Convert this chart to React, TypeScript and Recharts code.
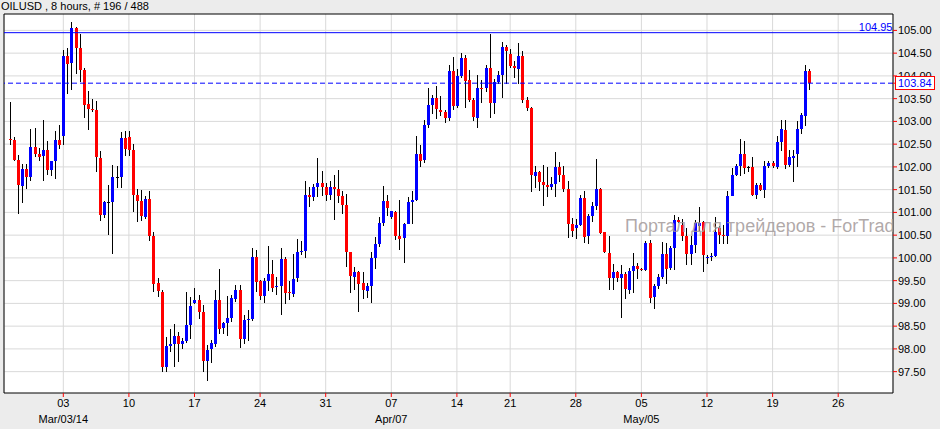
import React from 'react';
import { ComposedChart, Bar, XAxis, YAxis, CartesianGrid, ReferenceLine } from 'recharts';

const FONT = '"Liberation Sans", Arial, sans-serif';

const title = 'OILUSD , 8 hours, # 196 / 488';
// the watermark is cut by the plot's right edge in the reference
const watermarkVisible = 'Портал для трейдеров - ForTrad';

const opens = [
  102.62, 102.59, 102.15, 101.59, 101.96, 101.79, 102.44, 102.29, 102.23, 102.37,
  101.93, 102.12, 102.59, 102.69, 104.44, 104.27, 105.05, 104.62, 104.14, 103.38,
  103.28, 103.25, 102.19, 100.93, 101.22, 101.24, 101.77, 101.78, 102.63, 102.66,
  102.38, 101.38, 101.25, 100.91, 101.30, 100.49, 99.44, 99.26, 97.61, 98.07,
  98.11, 98.29, 98.11, 98.18, 98.53, 99.02, 99.08, 98.82, 97.74, 97.98,
  98.12, 99.08, 98.44, 98.56, 98.67, 99.11, 99.30, 98.23, 98.64, 98.66,
  100.02, 99.49, 99.17, 99.49, 99.65, 99.35, 99.38, 99.98, 99.24, 99.22,
  99.54, 100.14, 100.16, 101.38, 101.34, 101.56, 101.65, 101.56, 101.38, 101.56,
  101.52, 101.36, 101.16, 100.12, 99.59, 99.70, 99.44, 99.28, 99.39, 100.00,
  100.31, 100.77, 101.26, 100.89, 101.01, 100.49, 100.43, 100.74, 101.23, 101.27,
  102.29, 102.14, 102.92, 103.35, 103.51, 103.25, 103.21, 103.08, 104.11, 103.34,
  104.00, 104.40, 103.90, 103.46, 103.08, 103.73, 103.74, 104.17, 103.39, 103.86,
  104.02, 104.64, 104.49, 104.21, 104.16, 104.44, 103.47, 103.29, 101.81, 101.89,
  101.66, 101.60, 101.56, 101.63, 102.00, 101.82, 101.52, 100.75, 100.67, 100.73,
  101.32, 100.47, 100.91, 101.14, 101.52, 100.56, 100.11, 99.55, 99.69, 99.55,
  99.64, 99.30, 99.71, 99.82, 99.76, 99.74, 100.33, 99.13, 99.38, 99.58,
  100.09, 99.76, 100.21, 100.83, 100.73, 100.49, 100.09, 100.29, 100.71, 100.78,
  99.99, 100.04, 100.05, 100.65, 100.51, 100.47, 101.36, 101.82, 102.02, 102.29,
  101.99, 101.99, 101.38, 101.60, 101.49, 102.02, 102.09, 102.01, 102.55, 102.81,
  102.04, 102.21, 102.29, 102.84, 103.13, 104.11,
];

const highs = [
  103.42, 102.65, 102.26, 102.07, 102.07, 102.84, 102.85, 102.41, 103.03, 102.56,
  102.14, 102.79, 102.92, 104.57, 104.62, 105.19, 105.08, 104.93, 104.17, 103.66,
  103.49, 103.45, 102.34, 101.24, 101.60, 102.04, 102.01, 102.76, 102.78, 102.78,
  102.50, 101.52, 101.49, 101.35, 101.48, 100.58, 99.55, 99.30, 98.27, 98.44,
  98.55, 98.38, 98.25, 99.24, 99.13, 99.33, 99.19, 98.97, 98.09, 98.20,
  99.30, 99.76, 98.60, 99.16, 99.19, 99.41, 99.41, 98.75, 98.86, 100.21,
  100.18, 99.52, 99.55, 100.26, 99.96, 99.59, 100.21, 100.01, 99.49, 100.08,
  100.42, 100.37, 101.68, 101.56, 101.62, 102.20, 101.91, 101.64, 101.70, 101.82,
  101.93, 101.46, 101.41, 100.13, 99.80, 99.72, 99.69, 99.44, 100.14, 100.45,
  100.89, 101.58, 101.38, 101.03, 101.02, 101.28, 100.76, 101.33, 101.46, 102.69,
  102.48, 103.03, 103.73, 103.58, 103.78, 103.56, 103.25, 104.24, 104.41, 104.15,
  104.51, 104.46, 104.13, 103.51, 104.02, 103.90, 104.24, 104.92, 103.93, 104.10,
  104.74, 104.68, 104.59, 104.32, 104.72, 104.55, 103.54, 103.32, 102.02, 101.90,
  102.04, 101.99, 101.78, 102.33, 102.11, 102.03, 101.69, 100.87, 100.86, 101.38,
  101.48, 100.96, 101.22, 102.18, 101.53, 100.57, 100.48, 99.87, 99.71, 99.85,
  99.70, 99.77, 100.10, 99.88, 99.78, 100.37, 100.39, 99.42, 99.64, 100.36,
  100.32, 100.26, 100.95, 100.89, 100.86, 100.65, 100.49, 100.84, 101.11, 100.80,
  100.07, 100.11, 100.90, 100.70, 100.73, 101.47, 101.97, 102.06, 102.62, 102.57,
  102.01, 102.21, 101.64, 101.64, 102.14, 102.14, 102.12, 102.69, 103.03, 103.03,
  102.37, 102.37, 103.00, 103.19, 104.24, 104.15,
];

const lows = [
  102.48, 102.12, 100.97, 101.22, 101.52, 101.70, 102.21, 102.12, 101.70, 101.81,
  101.82, 101.74, 102.40, 102.49, 103.61, 103.70, 104.05, 103.88, 103.07, 102.80,
  103.20, 101.88, 100.80, 100.87, 100.51, 100.08, 101.53, 101.53, 102.23, 102.23,
  101.00, 100.80, 100.80, 100.84, 100.38, 99.26, 99.13, 97.50, 97.50, 97.94,
  97.61, 97.72, 98.01, 98.12, 98.20, 98.97, 98.66, 97.50, 97.30, 97.70,
  98.04, 98.34, 98.34, 98.27, 98.59, 99.04, 98.03, 98.12, 98.18, 98.60,
  99.26, 99.08, 99.00, 99.27, 99.26, 99.19, 98.73, 98.97, 99.08, 99.13,
  99.48, 100.07, 99.98, 101.12, 101.24, 101.34, 101.36, 101.24, 101.28, 100.82,
  101.20, 100.95, 99.81, 99.22, 99.30, 98.81, 99.10, 99.11, 99.03, 99.74,
  100.23, 100.71, 100.91, 100.85, 100.38, 100.18, 99.88, 100.73, 100.73, 101.26,
  101.99, 102.08, 102.85, 103.16, 103.05, 103.12, 102.97, 103.00, 103.25, 103.30,
  103.97, 103.30, 103.42, 103.01, 102.86, 103.39, 103.64, 103.08, 103.16, 103.82,
  103.51, 103.82, 104.18, 103.95, 103.82, 103.41, 103.23, 101.46, 101.53, 101.46,
  101.14, 101.32, 101.49, 101.35, 101.68, 101.46, 100.43, 100.45, 100.43, 100.70,
  100.34, 100.29, 100.78, 101.05, 100.51, 100.10, 99.30, 99.30, 99.47, 98.69,
  99.11, 99.19, 99.22, 99.52, 99.72, 99.70, 99.00, 98.86, 99.32, 99.55,
  99.42, 99.74, 99.74, 100.75, 100.38, 99.83, 99.85, 100.12, 100.58, 99.68,
  99.88, 99.94, 100.03, 100.31, 100.31, 100.31, 101.35, 101.80, 101.80, 101.85,
  101.88, 101.35, 101.28, 101.46, 101.33, 101.99, 101.97, 101.97, 102.34, 101.96,
  101.99, 101.66, 101.99, 102.73, 102.90, 103.69,
];

const closes = [
  102.61, 102.14, 101.59, 101.96, 101.78, 102.44, 102.29, 102.23, 102.37, 101.93,
  102.12, 102.59, 102.49, 104.44, 104.27, 105.05, 104.62, 104.14, 103.38, 103.27,
  103.26, 102.21, 100.93, 101.22, 101.22, 101.78, 101.77, 102.63, 102.38, 102.38,
  101.38, 101.25, 100.91, 101.30, 100.49, 99.44, 99.26, 97.61, 98.07, 98.11,
  98.29, 98.11, 98.18, 98.53, 98.95, 99.08, 98.82, 97.74, 97.98, 98.12,
  99.08, 98.44, 98.56, 98.67, 99.11, 99.30, 98.23, 98.64, 98.66, 100.02,
  99.48, 99.17, 99.49, 99.65, 99.35, 99.38, 99.98, 99.24, 99.22, 99.54,
  100.12, 100.16, 101.38, 101.34, 101.56, 101.65, 101.56, 101.38, 101.56, 101.52,
  101.36, 101.16, 100.12, 99.59, 99.70, 99.44, 99.28, 99.39, 100.00, 100.31,
  100.77, 101.26, 101.11, 101.02, 100.49, 100.43, 100.74, 101.23, 101.27, 102.29,
  102.14, 102.92, 103.35, 103.51, 103.26, 103.21, 103.08, 104.11, 103.33, 104.00,
  104.40, 103.90, 103.46, 103.08, 103.73, 103.71, 104.17, 103.39, 103.86, 104.02,
  104.64, 104.56, 104.22, 104.16, 104.44, 103.47, 103.29, 101.81, 101.89, 101.66,
  101.60, 101.56, 101.63, 102.00, 101.82, 101.52, 100.75, 100.60, 100.73, 101.32,
  100.47, 100.91, 101.14, 101.52, 100.56, 100.11, 99.55, 99.69, 99.55, 99.64,
  99.32, 99.71, 99.82, 99.76, 99.74, 100.33, 99.13, 99.38, 99.58, 100.09,
  99.76, 100.21, 100.83, 100.78, 100.49, 100.09, 100.29, 100.77, 100.77, 100.05,
  100.02, 100.05, 100.58, 100.49, 100.48, 101.36, 101.82, 102.02, 102.29, 101.99,
  101.99, 101.38, 101.60, 101.49, 102.02, 102.09, 102.02, 102.55, 102.84, 102.04,
  102.21, 102.25, 102.84, 103.14, 104.11, 103.84,
];

const weekTickIndex = [13, 29, 45, 61, 77, 93, 109, 122, 138, 154, 170, 186, 202];
const weekTickLabels = ['03', '10', '17', '24', '31', '07', '14', '21', '28', '05', '12', '19', '26'];
const monthTickIndex = [13, 93, 154];
const monthTickLabels = ['Mar/03/14', 'Apr/07', 'May/05'];

const priceTicks = [97.5, 98, 98.5, 99, 99.5, 100, 100.5, 101, 101.5, 102, 102.5, 103, 103.5, 104, 104.5, 105];
const lastPrice = 103.84;
const levelPrice = 104.95;

const X_DOMAIN: [number, number] = [-1.4634, 215.3659];
const Y_DOMAIN: [number, number] = [97.0307, 105.3604];

const data = opens.map((o, i) => ({
  i,
  open: o,
  high: highs[i],
  low: lows[i],
  close: closes[i],
}));

// last price appended last so its boxed label is painted over the 104.00 label
const axisTicks = [...priceTicks, lastPrice];

const Candle = (props: any) => {
  const { x, y, width, height, payload } = props;
  if (x == null || y == null || !payload) return null;
  const top = Math.min(y, y + height);
  const h = Math.abs(height);
  const { open, close, high, low } = payload;
  const span = high - low || 1;
  const toY = (v: number) => top + ((high - v) / span) * h;
  const cx = Math.floor(x + width / 2);
  const yO = toY(open);
  const yC = toY(close);
  const bTop = Math.round(Math.min(yO, yC));
  const bH = Math.max(1, Math.round(Math.abs(yO - yC)));
  const color = close > open ? '#0000ff' : close < open ? '#ff0000' : '#000000';
  return (
    <g>
      <rect x={cx} y={Math.round(top)} width={1} height={Math.max(1, Math.round(h))} fill="#000000" />
      <rect x={cx - 1} y={bTop} width={3} height={bH} fill={color} />
    </g>
  );
};

const DateTick = (props: any) => {
  const { x, y, payload } = props;
  const v = payload ? payload.value : null;
  const wi = weekTickIndex.indexOf(v);
  const mi = monthTickIndex.indexOf(v);
  return (
    <g>
      {wi >= 0 && (
        <text x={x} y={y + 8} textAnchor="middle" fill="#000" fontSize={11} fontFamily={FONT}>
          {weekTickLabels[wi]}
        </text>
      )}
      {mi >= 0 && (
        <text x={x} y={y + 24} textAnchor="middle" fill="#000" fontSize={11} fontFamily={FONT}>
          {monthTickLabels[mi]}
        </text>
      )}
    </g>
  );
};

const PriceTick = (props: any) => {
  const { x, y, payload } = props;
  const v = payload ? payload.value : 0;
  if (v === lastPrice) {
    return (
      <g>
        <rect x={x - 2.5} y={Math.round(y) - 6.5} width={39} height={13} fill="#ffffff" stroke="#ff0000" strokeWidth={1} />
        <text x={x} y={y + 4} fill="#0000ff" fontSize={11} fontFamily={FONT}>
          {v.toFixed(2)}
        </text>
      </g>
    );
  }
  return (
    <text x={x} y={y} dy="0.355em" textAnchor="start" fill="#000000" fontSize={11} fontFamily={FONT}>
      {v.toFixed(2)}
    </text>
  );
};

const LevelLabel = (props: any) => {
  const vb = props.viewBox || {};
  const right = (vb.x || 0) + (vb.width || 0);
  return (
    <text x={right - 0.5} y={(vb.y || 0) - 1.5} textAnchor="end" fill="#0000ff" fontSize={11} fontFamily={FONT}>
      {levelPrice.toFixed(2)}
    </text>
  );
};

export default function App() {
  return (
    <div style={{ position: 'absolute', left: 0, top: 0, width: 940, height: 429, background: '#ececec', overflow: 'hidden' }}>
      <ComposedChart width={940} height={429} data={data} margin={{ top: 14, right: 0, bottom: 0, left: 4 }}>
        <CartesianGrid stroke="#d9d9d9" fill="#ffffff" horizontalValues={priceTicks} />
        <XAxis
          type="number"
          dataKey="i"
          domain={X_DOMAIN}
          allowDataOverflow
          ticks={weekTickIndex}
          interval={0}
          height={36}
          axisLine={{ stroke: '#000000' }}
          tickLine={{ stroke: '#ff0000' }}
          tickSize={4}
          tick={<DateTick />}
        />
        <YAxis
          type="number"
          orientation="right"
          domain={Y_DOMAIN}
          allowDataOverflow
          ticks={axisTicks}
          interval={0}
          width={47}
          axisLine={{ stroke: '#000000' }}
          tickLine={{ stroke: '#ff0000' }}
          tickSize={4}
          tickMargin={1}
          tick={<PriceTick />}
        />
        <ReferenceLine x={X_DOMAIN[0]} stroke="#000000" />
        <ReferenceLine y={Y_DOMAIN[1]} stroke="#000000" />
        <ReferenceLine y={levelPrice} stroke="#0000ff" label={<LevelLabel />} />
        <Bar
          dataKey={(d: any) => [d.low, d.high]}
          barSize={3}
          isAnimationActive={false}
          shape={(p: any) => <Candle {...p} />}
        />
        <ReferenceLine y={lastPrice} stroke="#0000ff" strokeDasharray="5 3" />
      </ComposedChart>
      <svg width={940} height={429} style={{ position: 'absolute', left: 0, top: 0, pointerEvents: 'none' }}>
        <defs>
          <clipPath id="plotClipWm">
            <rect x={4} y={14} width={889} height={379} />
          </clipPath>
        </defs>
        <text x={1} y={10} fontSize={11} fill="#000000" fontFamily={FONT}>
          {title}
        </text>
        <text x={625} y={232} fontSize={18} fill="#a39a9a" fillOpacity={0.85} fontFamily={FONT} clipPath="url(#plotClipWm)">
          {watermarkVisible}
        </text>
      </svg>
    </div>
  );
}
